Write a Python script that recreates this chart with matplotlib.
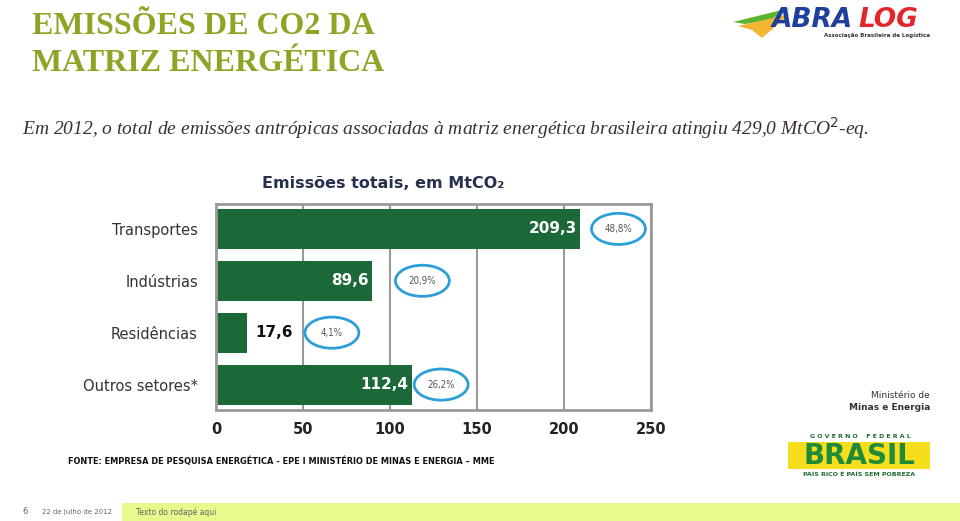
import matplotlib.pyplot as plt
from matplotlib.patches import Ellipse, Rectangle, Polygon

# data
categories = ['Transportes', 'Indústrias', 'Residências', 'Outros setores*']
emissions = [209.3, 89.6, 17.6, 112.4]  # MtCO2
shares = [48.8, 20.9, 4.1, 26.2]  # %
x_ticks = [0, 50, 100, 150, 200, 250]

W, H = 960, 521
fig = plt.figure(figsize=(W / 100, H / 100), dpi=100)
fig.patch.set_facecolor('white')

# full-slide overlay, pixel coordinates
bg = fig.add_axes([0, 0, 1, 1])
bg.set_xlim(0, W)
bg.set_ylim(H, 0)
bg.axis('off')

olive = '#8BA624'
bg.text(32, 34, 'EMISSÕES DE CO2 DA', fontsize=23, fontweight='bold', color=olive,
        family='Liberation Serif', va='baseline')
bg.text(32, 71, 'MATRIZ ENERGÉTICA', fontsize=23, fontweight='bold', color=olive,
        family='Liberation Serif', va='baseline')

bg.text(22, 128, 'Em 2012, o total de emissões antrópicas associadas à matriz energética '
        'brasileira atingiu 429,0 MtCO$^2$-eq.', fontsize=14, style='italic',
        color='#3a302e', family='Liberation Serif', va='center')

bg.text(68, 461, 'FONTE: EMPRESA DE PESQUISA ENERGÉTICA - EPE I MINISTÉRIO DE MINAS E ENERGIA – MME',
        fontsize=6.6, fontweight='bold', color='#111111', family='DejaVu Sans',
        fontstretch='condensed', va='center')

# footer band
bg.add_patch(Rectangle((122, 503), W - 122, 18, color='#e8fa8c', lw=0))
bg.text(22, 512, '6', fontsize=6, color='#666666', va='center')
bg.text(42, 512, '22 de julho de 2012', fontsize=5, color='#666666', va='center')
bg.text(136, 512, 'Texto do rodapé aqui', fontsize=5.5, color='#666666', va='center')

# ABRALOG logo (rough)
bg.add_patch(Polygon([[733, 22], [790, 8], [770, 20], [745, 24]], color='#5cb531', lw=0))
bg.add_patch(Polygon([[738, 26], [790, 14], [762, 38], [752, 30]], color='#f2b632', lw=0))
bg.text(772, 20, 'ABRA', fontsize=19, fontweight='bold', style='italic', color='#1f3f9c',
        va='center')
bg.text(858, 20, 'LOG', fontsize=19, fontweight='bold', style='italic', color='#e2262b',
        va='center')
bg.text(930, 35, 'Associação Brasileira de Logística', fontsize=4, fontweight='bold',
        color='#333333', ha='right', va='center')

# Governo federal logo (rough)
bg.text(930, 396, 'Ministério de', fontsize=6.5, color='#333333', ha='right', va='center')
bg.text(930, 407, 'Minas e Energia', fontsize=6.5, fontweight='bold', color='#333333',
        ha='right', va='center')
bg.text(860, 436, 'G O V E R N O    F E D E R A L', fontsize=4.5, fontweight='bold',
        color='#1d6b2f', ha='center', va='center')
bg.add_patch(Rectangle((788, 442), 142, 27, color='#f5df1c', lw=0))
bg.text(859, 456, 'BRASIL', fontsize=20, fontweight='bold', color='#1f8a3a',
        ha='center', va='center')
bg.text(859, 474, 'PAÍS RICO É PAÍS SEM POBREZA', fontsize=4.5, fontweight='bold',
        color='#1d6b2f', ha='center', va='center')

# chart
x0, x1, y_top, y_bot = 216, 651, 204, 410
ax = fig.add_axes([x0 / W, 1 - y_bot / H, (x1 - x0) / W, (y_bot - y_top) / H])
pos = list(range(len(categories)))
ax.barh(pos, emissions, height=0.77, color='#1b6838', zorder=2)
ax.set_xlim(0, 250)
ax.set_ylim(3.49, -0.48)
ax.set_xticks(x_ticks)
ax.set_xticklabels([str(t) for t in x_ticks], fontsize=10.5, fontweight='bold', color='#222222')
ax.set_yticks(pos)
ax.set_yticklabels(categories, fontsize=10.5, color='#333333')
ax.tick_params(axis='x', length=0, pad=9)
ax.tick_params(axis='y', length=0, pad=13)
ax.grid(axis='x', color='#9a9a9a', lw=1.5, zorder=0)
for s in ax.spines.values():
    s.set_color('#9a9a9a')
    s.set_linewidth(2)

pct_gap = [22, 29, 49, 17]
for i, (v, p) in enumerate(zip(emissions, shares)):
    lab = f'{v:.1f}'.replace('.', ',')
    if v > 50:
        ax.text(v - 2, i, lab, ha='right', va='center', color='white',
                fontsize=11, fontweight='bold', zorder=3)
    else:
        ax.text(v + 5, i, lab, ha='left', va='center', color='#111111',
                fontsize=11, fontweight='bold', zorder=3)
    cx = v + pct_gap[i]
    ax.add_patch(Ellipse((cx, i), 31, 0.6, fill=False, ec='#2c9fd8', lw=2,
                         clip_on=False, zorder=3))
    ax.text(cx, i, f'{p:.1f}%'.replace('.', ','), ha='center', va='center',
            fontsize=7, color='#555555', family='DejaVu Sans', fontstretch='condensed',
            zorder=4)

bg.text((x0 + x1) / 2 - 50, 184, 'Emissões totais, em MtCO₂', fontsize=11.5, fontweight='bold',
        color='#27304f', ha='center', va='center')

fig.savefig('out.png', dpi=100)
